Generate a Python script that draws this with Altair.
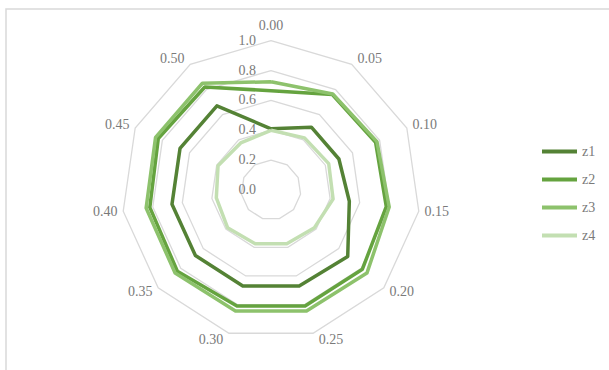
import altair as alt
import pandas as pd

# Radar chart: four series over eleven category spokes
categories = ["0.00", "0.05", "0.10", "0.15", "0.20", "0.25",
              "0.30", "0.35", "0.40", "0.45", "0.50"]
series_names = ["z1", "z2", "z3", "z4"]
z1 = [0.41, 0.50, 0.50, 0.53, 0.68, 0.67, 0.67, 0.67, 0.67, 0.67, 0.67]
z2 = [0.665, 0.76, 0.77, 0.78, 0.81, 0.81, 0.81, 0.83, 0.82, 0.83, 0.82]
z3 = [0.725, 0.765, 0.78, 0.80, 0.85, 0.845, 0.845, 0.85, 0.845, 0.85, 0.85]
z4 = [0.40, 0.415, 0.425, 0.42, 0.385, 0.375, 0.375, 0.385, 0.37, 0.39, 0.375]
ring_values = [0.2, 0.4, 0.6, 0.8, 1.0]
ring_labels = ["0.0", "0.2", "0.4", "0.6", "0.8", "1.0"]
colors = ["#548235", "#65a33f", "#8dc26c", "#c3dfb2"]

N = len(categories)
FONT = "Liberation Serif"
TEXT_COLOR = "#7a7a7a"
GRID_COLOR = "#d9d9d9"

# layout of the plot area (pixels) and pixels per unit of the radial axis
W, H = 605, 363
CX, CY = 265, 181
PX = 149.3
x_scale = alt.Scale(domain=[-CX / PX, (W - CX) / PX], nice=False, zero=False)
y_scale = alt.Scale(domain=[-(H - CY) / PX, CY / PX], nice=False, zero=False)

# closed polygons: repeat the first spoke at the end
rows = []
for name, vals in zip(series_names, [z1, z2, z3, z4]):
    for k in range(N + 1):
        rows.append({"series": name, "k": k, "value": vals[k % N]})
series_df = pd.DataFrame(rows)

ring_df = pd.DataFrame(
    [{"ring": r, "k": k, "value": r} for r in ring_values for k in range(N + 1)]
)
ring_label_df = pd.DataFrame(
    {"label": ring_labels, "value": [float(t) for t in ring_labels]}
)
cat_df = pd.DataFrame({"label": categories, "k": list(range(N))})

ang = f"datum.k * 2 * PI / {N}"


def to_xy(chart):
    return chart.transform_calculate(
        px=f"datum.value * sin({ang})",
        py=f"datum.value * cos({ang})",
    )


grid = to_xy(alt.Chart(ring_df)).mark_line(
    color=GRID_COLOR, strokeWidth=1.3
).encode(
    x=alt.X("px:Q", scale=x_scale, axis=None),
    y=alt.Y("py:Q", scale=y_scale, axis=None),
    detail="ring:N",
    order="k:Q",
)

ring_text = alt.Chart(ring_label_df).mark_text(
    align="right", baseline="middle", dx=-15,
    font=FONT, fontSize=14, color=TEXT_COLOR,
).transform_calculate(px="0", py="datum.value").encode(
    x=alt.X("px:Q", scale=x_scale, axis=None),
    y=alt.Y("py:Q", scale=y_scale, axis=None),
    text="label:N",
)

cat_text = alt.Chart(cat_df).mark_text(
    align="center", baseline="middle",
    font=FONT, fontSize=14, color=TEXT_COLOR,
).transform_calculate(
    sx=f"sin({ang})",
    cy=f"cos({ang})",
).transform_calculate(
    px=f"datum.sx + (abs(datum.sx) < 1e-6 ? 0 : (datum.sx > 0 ? 1 : -1)) * {18 / PX}",
    py=f"datum.cy + (datum.k == 0 ? {15 / PX} : {7 / PX} * datum.cy)",
).encode(
    x=alt.X("px:Q", scale=x_scale, axis=None),
    y=alt.Y("py:Q", scale=y_scale, axis=None),
    text="label:N",
)

lines = to_xy(alt.Chart(series_df)).mark_line(
    strokeWidth=3.5, strokeJoin="round"
).encode(
    x=alt.X("px:Q", scale=x_scale, axis=None),
    y=alt.Y("py:Q", scale=y_scale, axis=None),
    color=alt.Color(
        "series:N",
        scale=alt.Scale(domain=series_names, range=colors),
        legend=alt.Legend(
            title=None, orient="none", legendX=534, legendY=123,
            symbolType="stroke", symbolSize=1225, symbolStrokeWidth=4,
            labelFont=FONT, labelFontSize=14, labelColor=TEXT_COLOR,
            labelOffset=3, rowPadding=-3, padding=0,
        ),
    ),
    order="k:Q",
)

chart = alt.layer(grid, ring_text, cat_text, lines).properties(
    width=W, height=H,
    autosize=alt.AutoSizeParams(type="none"),
    padding={"left": 6, "top": 9, "right": -2, "bottom": -2},
).configure_view(
    stroke=GRID_COLOR, strokeWidth=1.5
)

chart.save("out.html", embed_options={"renderer": "svg", "actions": False})
